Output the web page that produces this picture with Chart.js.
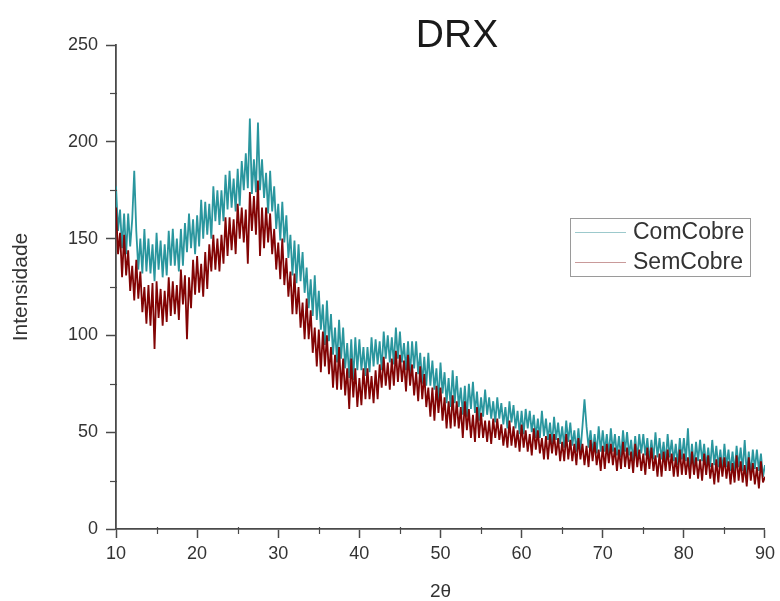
<!DOCTYPE html>
<html>
<head>
<meta charset="utf-8">
<script src="https://cdn.jsdelivr.net/npm/chart.js@4.4.1/dist/chart.umd.min.js"></script>
<style>
  html, body { margin: 0; padding: 0; background: #fff; }
  #wrap { width: 780px; height: 601px; }
</style>
</head>
<body>
<div id="wrap"><canvas id="drx" width="780" height="601"></canvas></div>
<script>
// Scan grid: 2θ from 10° to 90° in 0.25° steps
const scanStart = 10;
const scanStep = 0.25;

// Intensity, sample without copper (one row = 5 degrees)
const semCobre = [
  166,142,153,130, 152,131,144,123, 136,118,139,119, 133,112,125,106, 126,105,127,93,
  128,109,124,105, 123,107,130,110, 128,111,126,108, 134,116,131,98, 130,114,139,121,
  141,122,137,120, 143,124,147,133, 152,134,150,133, 152,137,161,141, 161,144,160,142,
  168,150,166,148, 165,137,174,154, 172,152,180,141, 166,145,166,148, 163,142,155,134,
  148,129,150,126, 140,120,133,111, 132,111,125,104, 117,98,119,98, 113,91,104,84,
  103,81,102,84, 100,80,94,73, 90,72,94,72, 88,69,83,62, 88,68,83,63,
  78,64,83,67, 83,67,79,65, 82,67,85,73, 89,74,86,72, 88,74,92,76,
  90,76,87,71, 90,74,85,69, 81,66,84,67, 80,63,73,58, 73,56,74,60,
  73,56,68,52, 66,52,69,53, 66,52,63,47, 66,51,62,47, 59,45,63,47,
  60,47,56,45, 56,44,57,47, 57,46,54,43, 52,42,56,43, 53,42,51,40,
  54,42,51,40, 49,38,52,41, 51,39,47,36, 48,36,49,39, 49,38,47,35,
  45,35,49,36, 46,35,44,33, 47,36,44,33, 43,32,46,35, 45,33,41,30,
  43,31,44,34, 44,33,42,30, 41,31,45,32, 42,31,40,29, 44,32,41,30,
  39,28,42,31, 42,30,38,27, 39,27,40,30, 41,30,39,27, 37,27,41,28,
  39,28,37,26, 40,28,37,26, 36,25,39,28, 38,26,34,23, 36,24,37,27,
  37,26,35,23, 34,24,38,25, 35,24,33,22, 37,25,34,23, 32,21,35,24,
  27
];

// Intensity, sample with copper (one row = 5 degrees)
const comCobre = [
  177,154,165,145, 163,142,163,146, 160,185,154,134, 150,132,155,133, 150,132,147,128,
  153,134,149,130, 147,131,154,136, 155,136,150,133, 155,136,158,143, 163,145,160,142,
  162,146,170,150, 169,152,168,150, 177,159,175,157, 175,159,183,165, 185,166,181,164,
  186,167,190,175, 194,176,212,173, 191,174,210,175, 191,171,184,163, 185,164,177,155,
  168,149,169,148, 162,140,152,131, 149,127,147,128, 143,122,135,114, 129,110,131,108,
  123,103,116,95, 118,97,111,90, 104,86,108,88, 104,83,96,78, 98,77,99,82,
  98,82,94,79, 94,81,99,84, 98,85,97,82, 102,88,100,86, 99,85,104,88,
  102,86,96,82, 97,80,97,83, 97,80,91,75, 89,74,91,74, 87,72,83,66,
  86,70,81,65, 78,63,82,65, 79,63,73,59, 74,58,75,62, 76,60,71,56,
  68,58,72,59, 68,57,66,55, 68,57,65,54, 63,52,66,55, 64,52,61,49,
  61,49,62,52, 61,50,59,47, 57,47,61,48, 57,46,55,44, 58,46,55,44,
  53,42,56,45, 55,43,51,40, 52,40,53,67, 53,42,51,39, 49,39,53,40,
  51,40,49,38, 52,40,49,38, 48,37,51,40, 50,38,46,35, 48,36,49,39,
  49,38,47,35, 46,36,50,37, 47,36,45,34, 49,37,46,35, 44,33,47,36,
  47,35,52,32, 44,32,45,35, 46,35,44,32, 42,32,46,33, 43,32,41,30,
  44,32,41,30, 40,29,43,32, 42,30,46,28, 40,28,41,31, 41,30,39,27,
  33
];

const seriesNames = ['ComCobre', 'SemCobre'];
const seriesColors = { ComCobre: '#2a969e', SemCobre: '#820404' };
const legendColors = { ComCobre: '#9cc9cc', SemCobre: '#c99a9a' };

const xTicks = [10, 20, 30, 40, 50, 60, 70, 80, 90];
const xMinorTicks = [15, 25, 35, 45, 55, 65, 75, 85];
const yTicks = [0, 50, 100, 150, 200, 250];
const yMinorTicks = [25, 75, 125, 175, 225];

const chartTitle = 'DRX';
const xTitle = '2θ';
const yTitle = 'Intensidade';

const FONT = '"Liberation Sans", Arial, Helvetica, sans-serif';
const AXIS_COLOR = '#4a4a4a';
const TEXT_COLOR = '#333333';

function toPoints(values) {
  return values.map((v, i) => ({ x: scanStart + i * scanStep, y: v }));
}

// Minor ticks, title and the boxed legend inside the plot
const decorations = {
  id: 'decorations',
  afterDraw(chart) {
    const { ctx, scales: { x, y } } = chart;
    ctx.save();
    ctx.strokeStyle = AXIS_COLOR;
    ctx.lineWidth = 1.2;
    const yb = y.getPixelForValue(0);
    xMinorTicks.forEach(v => {
      const px = Math.round(x.getPixelForValue(v)) + 0.5;
      ctx.beginPath(); ctx.moveTo(px, yb - 2); ctx.lineTo(px, yb + 5); ctx.stroke();
    });
    const xl = x.getPixelForValue(10);
    yMinorTicks.forEach(v => {
      const py = Math.round(y.getPixelForValue(v)) + 0.5;
      ctx.beginPath(); ctx.moveTo(xl - 6, py); ctx.lineTo(xl + 1, py); ctx.stroke();
    });

    // title
    ctx.fillStyle = '#1a1a1a';
    ctx.font = '39px ' + FONT;
    ctx.textAlign = 'center';
    ctx.textBaseline = 'alphabetic';
    ctx.fillText(chartTitle, 457, 47);

    // legend box
    ctx.strokeStyle = '#9a9a9a';
    ctx.lineWidth = 1;
    ctx.strokeRect(570.5, 218.5, 180, 58);
    ctx.font = '23px ' + FONT;
    ctx.textAlign = 'left';
    ctx.textBaseline = 'middle';
    const rows = [232, 262];
    seriesNames.forEach((name, i) => {
      ctx.strokeStyle = legendColors[name];
      ctx.lineWidth = 1.2;
      ctx.beginPath(); ctx.moveTo(575, rows[i] + 0.5); ctx.lineTo(626, rows[i] + 0.5); ctx.stroke();
      ctx.fillStyle = TEXT_COLOR;
      ctx.fillText(name, 633, rows[i] + 1);
    });
    ctx.restore();
  }
};

new Chart(document.getElementById('drx'), {
  type: 'line',
  data: {
    datasets: [
      {
        label: 'SemCobre',
        data: toPoints(semCobre),
        borderColor: seriesColors.SemCobre,
        borderWidth: 1.8,
        borderJoinStyle: 'bevel',
        pointRadius: 0,
        tension: 0,
        fill: false
      },
      {
        label: 'ComCobre',
        data: toPoints(comCobre),
        borderColor: seriesColors.ComCobre,
        borderWidth: 1.8,
        borderJoinStyle: 'bevel',
        pointRadius: 0,
        tension: 0,
        fill: false
      }
    ]
  },
  options: {
    responsive: false,
    animation: false,
    devicePixelRatio: 1,
    layout: { padding: { left: 0, right: 13, top: 45, bottom: 0 } },
    plugins: {
      legend: { display: false },
      tooltip: { enabled: false },
      title: { display: false }
    },
    font: { family: FONT },
    scales: {
      x: {
        type: 'linear',
        min: 10,
        max: 90,
        afterBuildTicks: s => { s.ticks = xTicks.map(v => ({ value: v })); },
        afterFit: s => { s.height = 72; },
        grid: { drawOnChartArea: false, drawTicks: true, tickLength: 9, tickColor: AXIS_COLOR, tickWidth: 1.5 },
        border: { display: true, color: AXIS_COLOR, width: 1.8 },
        ticks: { color: TEXT_COLOR, font: { family: FONT, size: 18 }, padding: 5, maxRotation: 0 },
        title: { display: true, text: xTitle, color: TEXT_COLOR, font: { family: FONT, size: 19, lineHeight: 1 }, padding: { top: 0, bottom: 0 } }
      },
      y: {
        type: 'linear',
        min: 0,
        max: 250,
        afterBuildTicks: s => { s.ticks = yTicks.map(v => ({ value: v })); },
        afterFit: s => { s.width = 116; },
        grid: { drawOnChartArea: false, drawTicks: true, tickLength: 10, tickColor: AXIS_COLOR, tickWidth: 1.5 },
        border: { display: true, color: AXIS_COLOR, width: 1.8 },
        ticks: { color: TEXT_COLOR, font: { family: FONT, size: 18 }, padding: 8 },
        title: { display: true, text: yTitle, color: TEXT_COLOR, font: { family: FONT, size: 21, lineHeight: 1.2 }, padding: { top: 9, bottom: 0 } }
      }
    }
  },
  plugins: [decorations]
});
</script>
</body>
</html>
